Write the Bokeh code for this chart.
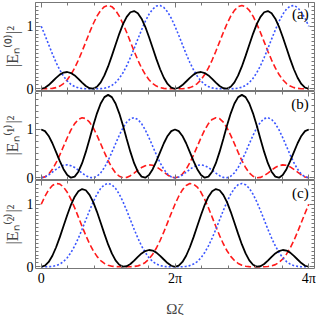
import numpy as np
from bokeh.plotting import figure
from bokeh.layouts import column
from bokeh.models import Range1d, FixedTicker, LinearAxis, Label, CustomJSTickFormatter
from bokeh.embed import file_html
from bokeh.resources import INLINE

# sample positions: Omega*zeta from 0 to 4*pi (10-degree steps, 73 samples)
zeta = np.linspace(0, 4 * np.pi, 73)

# ---- panel (a) ----
black_a = [0.000, 0.016, 0.059, 0.116, 0.175, 0.226, 0.259, 0.268, 0.251, 0.213, 0.158, 0.098, 0.044, 0.008, 0.002, 0.032, 0.102, 0.213, 0.357, 0.526, 0.705, 0.879, 1.033, 1.151, 1.224, 1.243, 1.208, 1.121, 0.991, 0.829, 0.652, 0.474, 0.312, 0.176, 0.077, 0.019, 0.000,
           0.016, 0.059, 0.116, 0.175, 0.226, 0.259, 0.268, 0.251, 0.213, 0.158, 0.098, 0.044, 0.008, 0.002, 0.032, 0.102, 0.213, 0.357, 0.526, 0.705, 0.879, 1.033, 1.151, 1.224, 1.243, 1.208, 1.121, 0.991, 0.829, 0.652, 0.474, 0.312, 0.176, 0.077, 0.019, 0.000]
red_a = [0.000, 0.000, 0.001, 0.006, 0.018, 0.043, 0.083, 0.144, 0.228, 0.333, 0.459, 0.600, 0.750, 0.900, 1.040, 1.161, 1.254, 1.313, 1.333, 1.313, 1.254, 1.161, 1.040, 0.900, 0.750, 0.600, 0.459, 0.333, 0.228, 0.144, 0.083, 0.043, 0.018, 0.006, 0.001, 0.000, 0.000,
         0.000, 0.001, 0.006, 0.018, 0.043, 0.083, 0.144, 0.228, 0.333, 0.459, 0.600, 0.750, 0.900, 1.040, 1.161, 1.254, 1.313, 1.333, 1.313, 1.254, 1.161, 1.040, 0.900, 0.750, 0.600, 0.459, 0.333, 0.228, 0.144, 0.083, 0.043, 0.018, 0.006, 0.001, 0.000, 0.000]
blue_a = [1.000, 0.856, 0.706, 0.558, 0.420, 0.300, 0.201, 0.124, 0.069, 0.034, 0.014, 0.004, 0.001, 0.000, 0.000, 0.000, 0.002, 0.009, 0.024, 0.053, 0.099, 0.166, 0.256, 0.368, 0.499, 0.644, 0.794, 0.942, 1.078, 1.191, 1.275, 1.323, 1.332, 1.300, 1.230, 1.128, 1.000,
          0.856, 0.706, 0.558, 0.420, 0.300, 0.201, 0.124, 0.069, 0.034, 0.014, 0.004, 0.001, 0.000, 0.000, 0.000, 0.002, 0.009, 0.024, 0.053, 0.099, 0.166, 0.256, 0.368, 0.499, 0.644, 0.794, 0.942, 1.078, 1.191, 1.275, 1.323, 1.332, 1.300, 1.230, 1.128, 1.000]

# ---- panel (b) ----
black_b = [1.000, 0.965, 0.866, 0.715, 0.533, 0.345, 0.179, 0.058, 0.002, 0.024, 0.126, 0.302, 0.536, 0.804, 1.080, 1.333, 1.537, 1.669, 1.715, 1.669, 1.537, 1.333, 1.080, 0.804, 0.536, 0.302, 0.126, 0.024, 0.002, 0.058, 0.179, 0.345, 0.533, 0.715, 0.866, 0.965, 1.000,
           0.965, 0.866, 0.715, 0.533, 0.345, 0.179, 0.058, 0.002, 0.024, 0.126, 0.302, 0.536, 0.804, 1.080, 1.333, 1.537, 1.669, 1.715, 1.669, 1.537, 1.333, 1.080, 0.804, 0.536, 0.302, 0.126, 0.024, 0.002, 0.058, 0.179, 0.345, 0.533, 0.715, 0.866, 0.965, 1.000]
red_b = [0.000, 0.019, 0.077, 0.176, 0.312, 0.474, 0.652, 0.829, 0.991, 1.121, 1.208, 1.243, 1.224, 1.151, 1.033, 0.879, 0.705, 0.526, 0.357, 0.213, 0.102, 0.032, 0.002, 0.008, 0.044, 0.098, 0.158, 0.213, 0.251, 0.268, 0.259, 0.226, 0.175, 0.116, 0.059, 0.016, 0.000,
         0.019, 0.077, 0.176, 0.312, 0.474, 0.652, 0.829, 0.991, 1.121, 1.208, 1.243, 1.224, 1.151, 1.033, 0.879, 0.705, 0.526, 0.357, 0.213, 0.102, 0.032, 0.002, 0.008, 0.044, 0.098, 0.158, 0.213, 0.251, 0.268, 0.259, 0.226, 0.175, 0.116, 0.059, 0.016, 0.000]
blue_b = [0.000, 0.016, 0.059, 0.116, 0.175, 0.226, 0.259, 0.268, 0.251, 0.213, 0.158, 0.098, 0.044, 0.008, 0.002, 0.032, 0.102, 0.213, 0.357, 0.526, 0.705, 0.879, 1.033, 1.151, 1.224, 1.243, 1.208, 1.121, 0.991, 0.829, 0.652, 0.474, 0.312, 0.176, 0.077, 0.019, 0.000,
          0.016, 0.059, 0.116, 0.175, 0.226, 0.259, 0.268, 0.251, 0.213, 0.158, 0.098, 0.044, 0.008, 0.002, 0.032, 0.102, 0.213, 0.357, 0.526, 0.705, 0.879, 1.033, 1.151, 1.224, 1.243, 1.208, 1.121, 0.991, 0.829, 0.652, 0.474, 0.312, 0.176, 0.077, 0.019, 0.000]

# ---- panel (c) ----
black_c = [0.000, 0.019, 0.077, 0.176, 0.312, 0.474, 0.652, 0.829, 0.991, 1.121, 1.208, 1.243, 1.224, 1.151, 1.033, 0.879, 0.705, 0.526, 0.357, 0.213, 0.102, 0.032, 0.002, 0.008, 0.044, 0.098, 0.158, 0.213, 0.251, 0.268, 0.259, 0.226, 0.175, 0.116, 0.059, 0.016, 0.000,
           0.019, 0.077, 0.176, 0.312, 0.474, 0.652, 0.829, 0.991, 1.121, 1.208, 1.243, 1.224, 1.151, 1.033, 0.879, 0.705, 0.526, 0.357, 0.213, 0.102, 0.032, 0.002, 0.008, 0.044, 0.098, 0.158, 0.213, 0.251, 0.268, 0.259, 0.226, 0.175, 0.116, 0.059, 0.016, 0.000]
red_c = [1.000, 1.128, 1.230, 1.300, 1.332, 1.323, 1.275, 1.191, 1.078, 0.942, 0.794, 0.644, 0.499, 0.368, 0.256, 0.166, 0.099, 0.053, 0.024, 0.009, 0.002, 0.000, 0.000, 0.000, 0.001, 0.004, 0.014, 0.034, 0.069, 0.124, 0.201, 0.300, 0.420, 0.558, 0.706, 0.856, 1.000,
         1.128, 1.230, 1.300, 1.332, 1.323, 1.275, 1.191, 1.078, 0.942, 0.794, 0.644, 0.499, 0.368, 0.256, 0.166, 0.099, 0.053, 0.024, 0.009, 0.002, 0.000, 0.000, 0.000, 0.001, 0.004, 0.014, 0.034, 0.069, 0.124, 0.201, 0.300, 0.420, 0.558, 0.706, 0.856, 1.000]
blue_c = [0.000, 0.000, 0.001, 0.006, 0.018, 0.043, 0.083, 0.144, 0.228, 0.333, 0.459, 0.600, 0.750, 0.900, 1.040, 1.161, 1.254, 1.313, 1.333, 1.313, 1.254, 1.161, 1.040, 0.900, 0.750, 0.600, 0.459, 0.333, 0.228, 0.144, 0.083, 0.043, 0.018, 0.006, 0.001, 0.000, 0.000,
          0.000, 0.001, 0.006, 0.018, 0.043, 0.083, 0.144, 0.228, 0.333, 0.459, 0.600, 0.750, 0.900, 1.040, 1.161, 1.254, 1.313, 1.333, 1.313, 1.254, 1.161, 1.040, 0.900, 0.750, 0.600, 0.459, 0.333, 0.228, 0.144, 0.083, 0.043, 0.018, 0.006, 0.001, 0.000, 0.000]

y_labels = ["|E\u2099\u207d\u2070\u207e|\u00b2", "|E\u2099\u207d\u00b9\u207e|\u00b2", "|E\u2099\u207d\u00b2\u207e|\u00b2"]
panel_tags = ["(a)", "(b)", "(c)"]
x_tick_labels = ["0", "2\u03c0", "4\u03c0"]

SERIF = "Liberation Serif"
FRAME = "#777777"
RED = "#ff1a1a"
BLUE = "#3a55ff"

x_major = [0.0, 2 * np.pi, 4 * np.pi]
x_minor = [0.4 * np.pi * i for i in range(11)]
y_major = [0.0, 1.0]

xr = Range1d(-0.27, 4 * np.pi + 0.27)
blank = CustomJSTickFormatter(code="return '';")


def style_axis(ax, labeled):
    ax.axis_line_color = None
    ax.major_tick_line_color = FRAME
    ax.minor_tick_line_color = FRAME
    ax.major_tick_in = 5
    ax.major_tick_out = 0
    ax.minor_tick_in = 3
    ax.minor_tick_out = 0
    ax.major_label_text_font = SERIF
    ax.major_label_text_color = "black"
    if labeled:
        ax.major_label_text_font_size = "14px"
        ax.major_label_standoff = 2
    else:
        ax.formatter = blank
        ax.major_label_text_font_size = "0px"
        ax.major_label_standoff = 0


def make_panel(idx, top, bottom, yr, ystep, series, tag_y, shift):
    p = figure(width=317, frame_height=88, x_range=xr, y_range=Range1d(*yr),
               output_backend="svg", toolbar_location=None, title=None,
               min_border_left=29, min_border_right=3,
               min_border_top=top, min_border_bottom=bottom)
    p.grid.visible = False
    p.outline_line_color = FRAME
    p.outline_line_width = 1
    p.background_fill_color = "white"
    p.border_fill_color = None
    if shift:
        p.styles = {"margin-top": f"-{shift}px"}

    y_minor = list(np.arange(0, yr[1], ystep))
    p.xaxis.ticker = FixedTicker(ticks=x_major, minor_ticks=x_minor)
    p.yaxis.ticker = FixedTicker(ticks=y_major, minor_ticks=y_minor)
    style_axis(p.xaxis[0], idx == 2)
    style_axis(p.yaxis[0], True)
    p.yaxis.axis_label = y_labels[idx]
    p.yaxis.axis_label_text_font = SERIF
    p.yaxis.axis_label_text_font_size = "16px"
    p.yaxis.axis_label_text_font_style = "normal"
    p.yaxis.axis_label_standoff = 3
    if idx == 2:
        p.xaxis.formatter = CustomJSTickFormatter(
            args=dict(labs=x_tick_labels),
            code="return tick < 1 ? labs[0] : (tick < 8 ? labs[1] : labs[2]);")
        p.xaxis.axis_label = "\u03a9\u03b6"
        p.xaxis.axis_label_text_font = SERIF
        p.xaxis.axis_label_text_font_size = "15px"
        p.xaxis.axis_label_text_font_style = "normal"
        p.xaxis.axis_label_standoff = 12

    top_ax = LinearAxis(ticker=FixedTicker(ticks=x_major, minor_ticks=x_minor))
    style_axis(top_ax, False)
    p.add_layout(top_ax, "above")
    right_ax = LinearAxis(ticker=FixedTicker(ticks=y_major, minor_ticks=y_minor))
    style_axis(right_ax, False)
    p.add_layout(right_ax, "right")

    black, red, blue = series
    p.line(zeta, red, line_color=RED, line_width=1.6, line_dash="6 3")
    p.line(zeta, blue, line_color=BLUE, line_width=1.6, line_dash="2 2")
    p.line(zeta, black, line_color="black", line_width=1.8)

    p.add_layout(Label(x=4 * np.pi, y=tag_y, text=panel_tags[idx], text_align="right",
                       text_baseline="middle", text_font=SERIF, text_font_size="15px",
                       text_color="black"))
    return p


p1 = make_panel(0, 2, 8, (-0.028, 1.38), 0.0625, (black_a, red_a, blue_a), 1.19, 0)
p2 = make_panel(1, 0, 8, (-0.035, 1.785), 0.125, (black_b, red_b, blue_b), 1.53, 7)
p3 = make_panel(2, 0, 45, (-0.028, 1.38), 0.0625, (black_c, red_c, blue_c), 1.18, 7)

layout = column(p1, p2, p3, spacing=0)
open("out.html", "w").write(file_html(layout, INLINE))
